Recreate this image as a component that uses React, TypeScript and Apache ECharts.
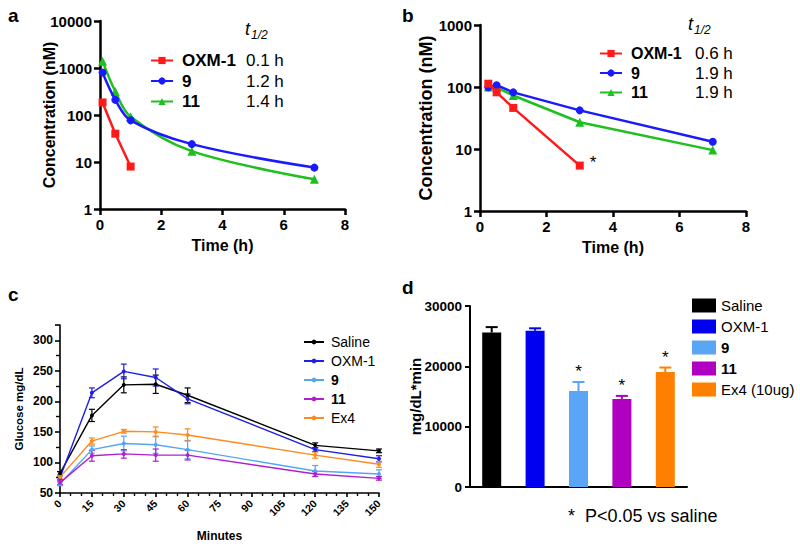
import React, { useEffect, useRef } from 'react';
import * as echarts from 'echarts';

const FONT = '"Liberation Sans", Arial, Helvetica, sans-serif';

// ---------- Panel a (PK, dose 1) ----------
const aTimesOXM1 = [0.083, 0.5, 1];
const aOXM1 = [185, 40, 8];
const aTimes = [0.083, 0.5, 1, 3, 7];
const a9 = [800, 210, 77, 24, 7.6];
const a11 = [1400, 316, 92, 17, 4.3];
const aHalfLife = ['0.1 h', '1.2 h', '1.4 h'];

// ---------- Panel b (PK, dose 2) ----------
const bTimesOXM1 = [0.25, 0.5, 1, 3];
const bOXM1 = [113, 82, 46, 5.4];
const bTimes = [0.25, 0.5, 1, 3, 7];
const b9 = [99, 107, 82, 42, 13.1];
const b11 = [100, 98, 73, 27, 9.6];
const bHalfLife = ['0.6 h', '1.9 h', '1.9 h'];

const pkNames = ['OXM-1', '9', '11'];
const pkColors = ['#ff1a1a', '#1a1aff', '#1fbf1f'];
const pkSymbols = ['rect', 'circle', 'triangle'];

// ---------- Panel c (glucose) ----------
const cMinutes = [0, 15, 30, 45, 60, 120, 150];
const cNames = ['Saline', 'OXM-1', '9', '11', 'Ex4'];
const cColors = ['#000000', '#1e1ee6', '#55a5f5', '#b01ed2', '#ff8a1e'];
const cSaline = [82, 177, 227, 228, 210, 128, 119];
const cSalineErr = [3, 10, 13, 15, 12, 4, 3];
const cOXM1 = [75, 214, 249, 239, 204, 121, 106];
const cOXM1Err = [3, 8, 12, 14, 8, 3, 5];
const c9 = [65, 121, 131, 129, 121, 86, 81];
const c9Err = [3, 6, 12, 14, 15, 9, 7];
const c11 = [67, 111, 114, 112, 112, 81, 74];
const c11Err = [3, 9, 7, 10, 8, 4, 3];
const cEx4 = [76, 135, 151, 150, 145, 112, 97];
const cEx4Err = [3, 5, 3, 8, 10, 5, 5];

// ---------- Panel d (AUC) ----------
const dNames = ['Saline', 'OXM-1', '9', '11', 'Ex4 (10ug)'];
const dColors = ['#000000', '#0000f0', '#5aa5f5', '#b000c0', '#ff8000'];
const dValues = [25600, 25900, 15900, 14600, 19050];
const dErrors = [900, 400, 1500, 500, 750];
const dSignificant = [false, false, true, true, true];

const boldNames = new Set(['9', '11']);

function zip(xs: number[], ys: number[]) {
  return xs.map((x, i) => [x, ys[i]]);
}

const plain = (v: number) => String(v);

export default function App() {
  const ref = useRef<HTMLDivElement>(null);
  useEffect(() => {
    if (!ref.current) return;
    const chart = echarts.init(ref.current, undefined, { renderer: 'svg' });

    const axisBase = (width: number, tickLen: number) => ({
      axisLine: { show: true, lineStyle: { color: '#000', width } },
      axisTick: { show: true, length: tickLen, lineStyle: { color: '#000', width } },
      splitLine: { show: false },
      nameMoveOverlap: false,
    });

    const pkX = (grid: number) => ({
      type: 'value',
      gridIndex: grid,
      min: 0,
      max: 8,
      interval: 2,
      ...axisBase(2.5, 6),
      axisLabel: { fontWeight: 'bold', fontSize: 15, color: '#000', fontFamily: FONT, margin: 8, formatter: plain },
      name: 'Time (h)',
      nameLocation: 'middle',
      nameGap: 28,
      nameTextStyle: { fontWeight: 'bold', fontSize: 16, color: '#000', fontFamily: FONT },
    });
    const pkY = (grid: number, max: number, nameSize: number, gap: number) => ({
      type: 'log',
      logBase: 10,
      gridIndex: grid,
      min: 1,
      max,
      ...axisBase(2.5, 6),
      axisLabel: { fontWeight: 'bold', fontSize: 15, color: '#000', fontFamily: FONT, margin: 8, formatter: plain },
      name: 'Concentration (nM)',
      nameLocation: 'middle',
      nameGap: gap,
      nameTextStyle: { fontWeight: 'bold', fontSize: nameSize, color: '#000', fontFamily: FONT },
    });

    const pkSeries = (grid: number, prefix: string, data: any[][], smooth: boolean[]) =>
      data.map((d, i) => ({
        type: 'line',
        name: prefix + pkNames[i],
        xAxisIndex: grid,
        yAxisIndex: grid,
        data: d,
        smooth: smooth[i] ? 0.35 : false,
        symbol: pkSymbols[i],
        symbolSize: pkSymbols[i] === 'triangle' ? 9 : 8,
        lineStyle: { color: pkColors[i], width: 2.5 },
        itemStyle: { color: pkColors[i] },
        z: 5 - i,
      }));

    const bOXM1Data: any[] = zip(bTimesOXM1, bOXM1);
    const last = bOXM1Data.length - 1;
    bOXM1Data[last] = {
      value: bOXM1Data[last],
      label: {
        show: true,
        formatter: '*',
        position: 'right',
        distance: 6,
        offset: [0, -3],
        fontSize: 17,
        color: '#000',
        fontFamily: FONT,
      },
    };

    const cData = [cSaline, cOXM1, c9, c11, cEx4];
    const cErr = [cSalineErr, cOXM1Err, c9Err, c11Err, cEx4Err];

    const errSeriesC = cData.map((ys, i) => ({
      type: 'custom',
      name: 'cerr' + i,
      xAxisIndex: 2,
      yAxisIndex: 2,
      data: cMinutes.map((m, k) => [m, ys[k], cErr[i][k]]),
      encode: { x: 0, y: 1 },
      z: 2,
      renderItem: (params: any, api: any) => {
        const x = api.value(0);
        const y = api.value(1);
        const e = api.value(2);
        const top = api.coord([x, y + e]);
        const bot = api.coord([x, y - e]);
        const cap = 3;
        const st = { stroke: cColors[i], lineWidth: 1.2 };
        return {
          type: 'group',
          children: [
            { type: 'line', shape: { x1: top[0], y1: top[1], x2: bot[0], y2: bot[1] }, style: st },
            { type: 'line', shape: { x1: top[0] - cap, y1: top[1], x2: top[0] + cap, y2: top[1] }, style: st },
            { type: 'line', shape: { x1: bot[0] - cap, y1: bot[1], x2: bot[0] + cap, y2: bot[1] }, style: st },
          ],
        };
      },
    }));

    const lineSeriesC = cData.map((ys, i) => ({
      type: 'line',
      name: 'c:' + cNames[i],
      xAxisIndex: 2,
      yAxisIndex: 2,
      data: zip(cMinutes, ys),
      symbol: 'circle',
      symbolSize: 4,
      lineStyle: { color: cColors[i], width: 1.4 },
      itemStyle: { color: cColors[i] },
      z: 3,
    }));

    const barSeriesD = dNames.map((n, i) => ({
      type: 'bar',
      name: 'd:' + n,
      xAxisIndex: 3,
      yAxisIndex: 3,
      data: dValues.map((v, k) => (k === i ? v : '-')),
      barWidth: 19,
      barGap: '-100%',
      itemStyle: { color: dColors[i] },
      z: 2,
    }));

    const errSeriesD = {
      type: 'custom',
      name: 'derr',
      xAxisIndex: 3,
      yAxisIndex: 3,
      data: dValues.map((v, k) => [k, v, dErrors[k], dSignificant[k] ? 1 : 0]),
      encode: { x: 0, y: 1 },
      z: 3,
      renderItem: (params: any, api: any) => {
        const x = api.value(0);
        const y = api.value(1);
        const e = api.value(2);
        const sig = api.value(3);
        const base = api.coord([x, y]);
        const top = api.coord([x, y + e]);
        const k = params.dataIndex;
        const st = { stroke: dColors[k], lineWidth: 2 };
        const cap = 6;
        const children: any[] = [
          { type: 'line', shape: { x1: base[0], y1: base[1], x2: top[0], y2: top[1] }, style: st },
          { type: 'line', shape: { x1: top[0] - cap, y1: top[1], x2: top[0] + cap, y2: top[1] }, style: st },
        ];
        if (sig) {
          children.push({
            type: 'text',
            style: {
              text: '*',
              x: top[0],
              y: top[1] - 2,
              textAlign: 'center',
              textVerticalAlign: 'bottom',
              align: 'center',
              verticalAlign: 'bottom',
              fontSize: 17,
              fontFamily: FONT,
              fill: '#000',
            },
          });
        }
        return { type: 'group', children };
      },
    };

    const pkLegend = (prefix: string, left: number, top: number, hl: string[], nSize: number, vSize: number, gap: number) => ({
      orient: 'vertical',
      left,
      top,
      selectedMode: false,
      itemWidth: 22,
      itemHeight: 9,
      itemGap: gap,
      data: pkNames.map((n) => prefix + n),
      formatter: (name: string) => {
        const idx = pkNames.indexOf(name.slice(prefix.length));
        return '{n|' + pkNames[idx] + '}{v|' + hl[idx] + '}';
      },
      textStyle: {
        rich: {
          n: { fontWeight: 'bold', fontSize: nSize, width: 64, lineHeight: 18, padding: [0, 0, 0, 4], fontFamily: FONT, color: '#000' },
          v: { fontSize: vSize, lineHeight: 18, fontFamily: FONT, color: '#000' },
        },
      },
    });

    const option: any = {
      animation: false,
      backgroundColor: '#fff',
      textStyle: { fontFamily: FONT },
      grid: [
        { left: 100, top: 21, width: 245, height: 188 },
        { left: 480, top: 25, width: 266, height: 186 },
        { left: 60, top: 325, width: 319, height: 168 },
        { left: 470, top: 306, width: 217, height: 181 },
      ],
      xAxis: [
        pkX(0),
        pkX(1),
        {
          type: 'value',
          gridIndex: 2,
          min: 0,
          max: 150,
          interval: 15,
          ...axisBase(1.6, 4),
          minorTick: { show: true, splitNumber: 3, length: 3, lineStyle: { color: '#000', width: 1.4 } },
          axisLabel: { fontWeight: 'bold', fontSize: 10.5, color: '#000', fontFamily: FONT, rotate: 45, margin: 9, formatter: plain },
          name: 'Minutes',
          nameLocation: 'middle',
          nameGap: 37,
          nameTextStyle: { fontWeight: 'bold', fontSize: 12, color: '#000', fontFamily: FONT },
        },
        {
          type: 'category',
          gridIndex: 3,
          data: dNames,
          axisLine: { show: true, lineStyle: { color: '#000', width: 2 } },
          axisTick: { show: false },
          axisLabel: { show: false },
        },
      ],
      yAxis: [
        pkY(0, 10000, 16, 43),
        pkY(1, 1000, 18, 45),
        {
          type: 'value',
          gridIndex: 2,
          min: 50,
          max: 325,
          interval: 50,
          ...axisBase(1.6, 5),
          minorTick: { show: true, splitNumber: 2, length: 4, lineStyle: { color: '#000', width: 1.4 } },
          axisLabel: { fontWeight: 'bold', fontSize: 12, color: '#000', fontFamily: FONT, margin: 7, showMaxLabel: false, formatter: plain },
          name: 'Glucose mg/dL',
          nameLocation: 'middle',
          nameGap: 35,
          nameTextStyle: { fontWeight: 'bold', fontSize: 11.5, color: '#000', fontFamily: FONT },
        },
        {
          type: 'value',
          gridIndex: 3,
          min: 0,
          max: 30000,
          interval: 10000,
          ...axisBase(2, 5),
          axisLabel: { fontWeight: 'bold', fontSize: 13.5, color: '#000', fontFamily: FONT, margin: 8, formatter: plain },
          name: 'mg/dL*min',
          nameLocation: 'middle',
          nameGap: 47,
          nameTextStyle: { fontWeight: 'bold', fontSize: 15, color: '#000', fontFamily: FONT },
        },
      ],
      legend: [
        pkLegend('a:', 145, 47, aHalfLife, 17, 17, 3.5),
        pkLegend('b:', 594, 40, bHalfLife, 16, 17, 2.5),
        {
          orient: 'vertical',
          left: 298,
          top: 330,
          selectedMode: false,
          itemWidth: 20,
          itemHeight: 6,
          itemGap: 5,
          data: cNames.map((n) => 'c:' + n),
          formatter: (name: string) => {
            const n = name.slice(2);
            return boldNames.has(n) ? '{b|' + n + '}' : '{r|' + n + '}';
          },
          textStyle: {
            rich: {
              r: { fontSize: 14, lineHeight: 17.5, padding: [0, 0, 0, 2], fontFamily: FONT, color: '#000' },
              b: { fontSize: 14, fontWeight: 'bold', lineHeight: 17.5, padding: [0, 0, 0, 2], fontFamily: FONT, color: '#000' },
            },
          },
        },
        {
          orient: 'vertical',
          left: 687,
          top: 293,
          selectedMode: false,
          icon: 'rect',
          itemWidth: 24,
          itemHeight: 14,
          itemGap: 6,
          data: dNames.map((n) => 'd:' + n),
          formatter: (name: string) => {
            const n = name.slice(2);
            return boldNames.has(n) ? '{b|' + n + '}' : '{r|' + n + '}';
          },
          textStyle: {
            rich: {
              r: { fontSize: 15, lineHeight: 18, fontFamily: FONT, color: '#000' },
              b: { fontSize: 15, fontWeight: 'bold', lineHeight: 18, fontFamily: FONT, color: '#000' },
            },
          },
        },
      ],
      graphic: [
        { type: 'text', left: 8, top: 6, style: { text: 'a', fontSize: 19, fontWeight: 'bold', fontFamily: FONT, fill: '#000' } },
        { type: 'text', left: 402, top: 6, style: { text: 'b', fontSize: 19, fontWeight: 'bold', fontFamily: FONT, fill: '#000' } },
        { type: 'text', left: 8, top: 285, style: { text: 'c', fontSize: 19, fontWeight: 'bold', fontFamily: FONT, fill: '#000' } },
        { type: 'text', left: 402, top: 278, style: { text: 'd', fontSize: 19, fontWeight: 'bold', fontFamily: FONT, fill: '#000' } },
        { type: 'text', left: 245, top: 20, style: { text: 't', fontSize: 18, fontStyle: 'italic', fontFamily: FONT, fill: '#000' } },
        { type: 'text', left: 251, top: 29, style: { text: '1/2', fontSize: 12, fontStyle: 'italic', fontFamily: FONT, fill: '#000' } },
        { type: 'text', left: 688, top: 15, style: { text: 't', fontSize: 18, fontStyle: 'italic', fontFamily: FONT, fill: '#000' } },
        { type: 'text', left: 694, top: 24, style: { text: '1/2', fontSize: 12, fontStyle: 'italic', fontFamily: FONT, fill: '#000' } },
        { type: 'text', left: 568, top: 507, style: { text: '*  P<0.05 vs saline', fontSize: 18, fontFamily: FONT, fill: '#000' } },
      ],
      series: [
        ...pkSeries(0, 'a:', [zip(aTimesOXM1, aOXM1), zip(aTimes, a9), zip(aTimes, a11)], [false, true, true]),
        ...pkSeries(1, 'b:', [bOXM1Data, zip(bTimes, b9), zip(bTimes, b11)], [false, false, false]),
        ...errSeriesC,
        ...lineSeriesC,
        ...barSeriesD,
        errSeriesD,
      ],
    };

    chart.setOption(option);
    return () => chart.dispose();
  }, []);

  return (
    <div
      ref={ref}
      style={{ position: 'fixed', left: 0, top: 0, width: 800, height: 547, background: '#fff' }}
    />
  );
}
